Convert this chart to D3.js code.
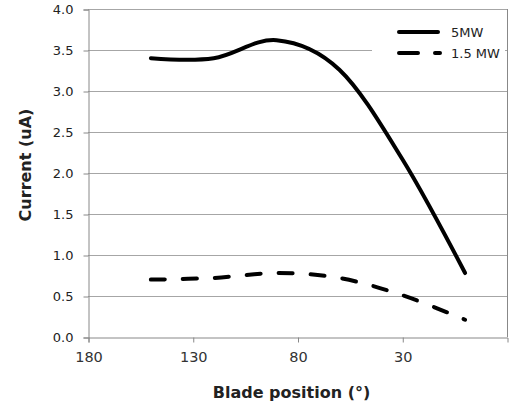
<!DOCTYPE html>
<html>
<head>
<meta charset="utf-8">
<script src="https://cdn.jsdelivr.net/npm/d3@7"></script>
<style>
  body { margin: 0; background: #fff; }
  svg { display: block; }
</style>
</head>
<body>
<svg class="chart" width="509" height="405"></svg>
<script>
// Data
const positions = [150, 120, 90, 60, 30, 0];
const current5MW = [3.40, 3.40, 3.62, 3.26, 2.17, 0.78];
const current15MW = [0.70, 0.72, 0.78, 0.72, 0.51, 0.21];
const xTicks = [180, 130, 80, 30];
const yTicks = [0, 0.5, 1.0, 1.5, 2.0, 2.5, 3.0, 3.5, 4.0];
const seriesNames = ["5MW", "1.5 MW"];

const plotLeft = 88, plotTop = 9, plotRight = 507, plotBottom = 337;

const svg = d3.select(".chart");

const xScale = d3.scaleLinear().domain([180, -20]).range([plotLeft, plotRight]);
const yScale = d3.scaleLinear().domain([0, 4]).range([plotBottom, plotTop]);

// gridlines
svg.append("g")
  .selectAll("line")
  .data(yTicks.filter(v => v > 0))
  .enter()
  .append("line")
  .attr("x1", plotLeft)
  .attr("x2", plotRight)
  .attr("y1", d => Math.round(yScale(d)) + 0.5)
  .attr("y2", d => Math.round(yScale(d)) + 0.5)
  .attr("stroke", "#a6a6a6")
  .attr("stroke-width", 1);

// right border
svg.append("line")
  .attr("x1", plotRight + 0.5).attr("x2", plotRight + 0.5)
  .attr("y1", plotTop).attr("y2", plotBottom)
  .attr("stroke", "#888");

// y axis
const yAxis = svg.append("g")
  .attr("transform", `translate(${plotLeft + 0.5},0.5)`)
  .call(d3.axisLeft(yScale).tickValues(yTicks).tickFormat(d3.format(".1f")).tickSize(5).tickPadding(10));
yAxis.select(".domain").attr("stroke", "#888");
yAxis.selectAll(".tick line").attr("stroke", "#888");
yAxis.selectAll("text")
  .attr("font-family", "DejaVu Sans")
  .attr("font-size", 13)
  .attr("fill", "#222");

// x axis
const xAxis = svg.append("g")
  .attr("transform", `translate(0.5,${plotBottom + 0.5})`)
  .call(d3.axisBottom(xScale).tickValues(xTicks).tickSize(5).tickPadding(9));
xAxis.select(".domain").attr("stroke", "#888");
xAxis.selectAll(".tick line").attr("stroke", "#888");
xAxis.selectAll("text")
  .attr("font-family", "DejaVu Sans")
  .attr("font-size", 14.5)
  .attr("fill", "#333");

// legend background
svg.append("rect")
  .attr("x", 372).attr("y", 14)
  .attr("width", 133).attr("height", 60)
  .attr("fill", "#fff");

// smoothed line, close to the spreadsheet "smooth line" look
const line = d3.line()
  .x(d => xScale(d[0]))
  .y(d => yScale(d[1]))
  .curve(d3.curveCatmullRom.alpha(0));

svg.append("path")
  .datum(positions.map((p, i) => [p, current5MW[i]]))
  .attr("d", line)
  .attr("fill", "none")
  .attr("stroke", "#000")
  .attr("stroke-width", 4)
  .attr("stroke-linecap", "round");

svg.append("path")
  .datum(positions.map((p, i) => [p, current15MW[i]]))
  .attr("d", line)
  .attr("fill", "none")
  .attr("stroke", "#000")
  .attr("stroke-width", 4)
  .attr("stroke-dasharray", "14,18")
  .attr("stroke-linecap", "round");

// legend
const legend = svg.append("g");
legend.append("line")
  .attr("x1", 399).attr("x2", 438).attr("y1", 32).attr("y2", 32)
  .attr("stroke", "#000").attr("stroke-width", 4).attr("stroke-linecap", "round");
legend.append("line")
  .attr("x1", 399).attr("x2", 440).attr("y1", 53).attr("y2", 53)
  .attr("stroke", "#000").attr("stroke-width", 4).attr("stroke-linecap", "round")
  .attr("stroke-dasharray", "19,17");
legend.selectAll("text")
  .data(seriesNames)
  .enter()
  .append("text")
  .attr("x", 451)
  .attr("y", (d, i) => 37 + i * 21)
  .attr("font-family", "DejaVu Sans")
  .attr("font-size", 13)
  .attr("fill", "#222")
  .text(d => d);

// axis titles
svg.append("text")
  .attr("x", (plotLeft + plotRight) / 2 - 6)
  .attr("y", 398)
  .attr("text-anchor", "middle")
  .attr("font-family", "DejaVu Sans")
  .attr("font-weight", "bold")
  .attr("font-size", 16)
  .attr("fill", "#222")
  .text("Blade position (°)");

svg.append("text")
  .attr("transform", "translate(31,165) rotate(-90)")
  .attr("text-anchor", "middle")
  .attr("font-family", "DejaVu Sans")
  .attr("font-weight", "bold")
  .attr("font-size", 16)
  .attr("fill", "#222")
  .text("Current (uA)");
</script>
</body>
</html>
